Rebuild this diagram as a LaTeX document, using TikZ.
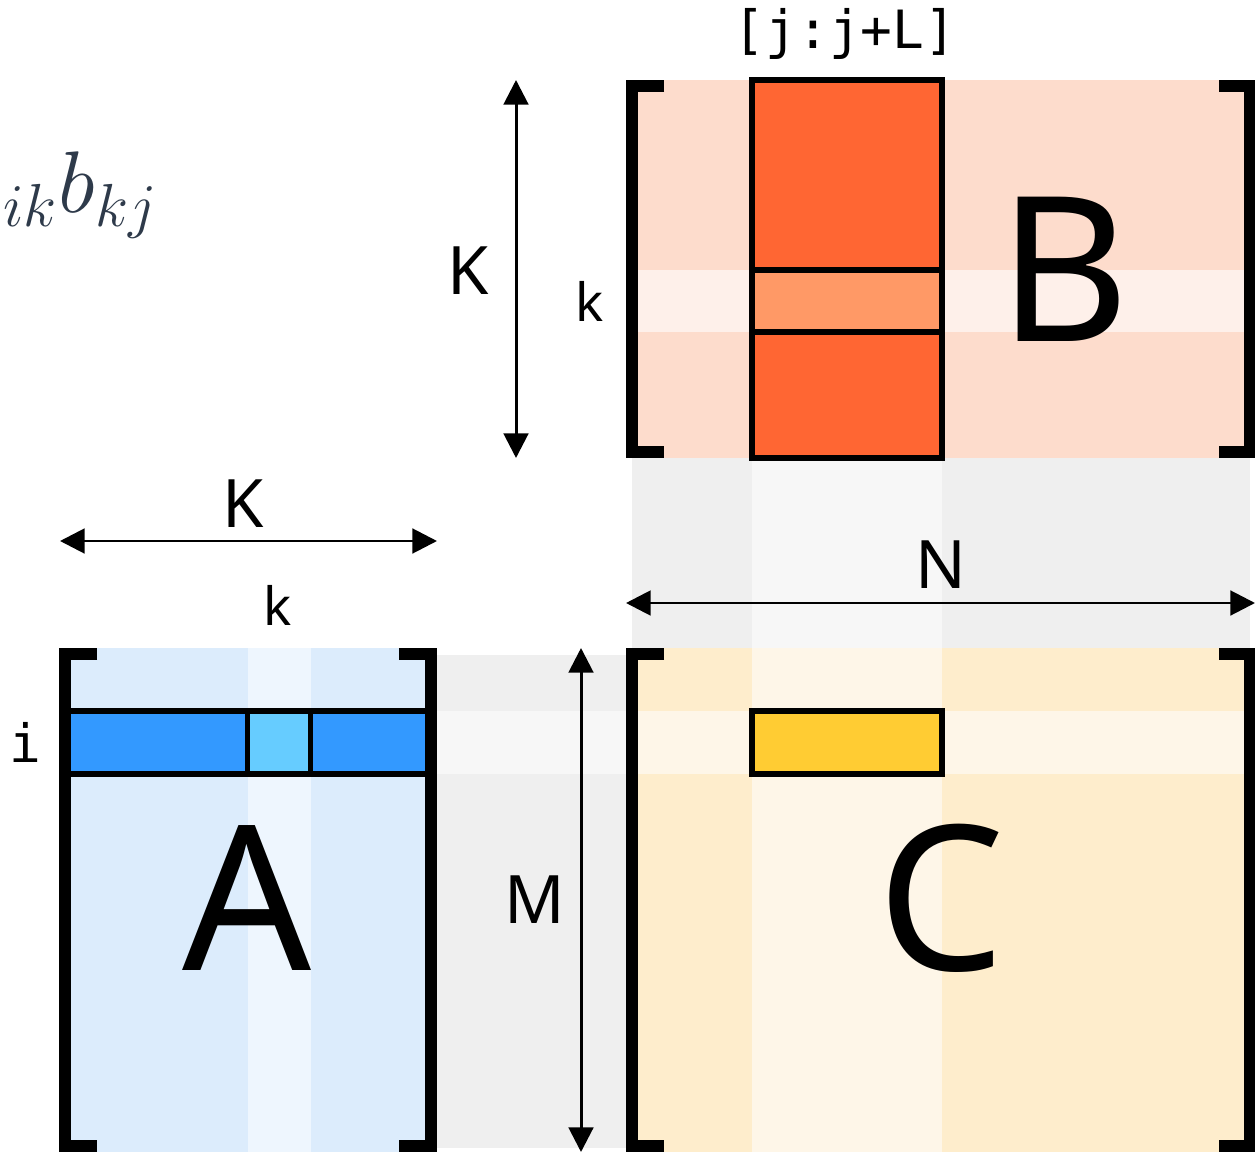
\documentclass[tikz,border=0pt]{standalone}
\usepackage{fontspec}
\setmainfont{Noto Sans}
\newfontfamily\monofont{DejaVu Sans Mono}
\usetikzlibrary{arrows.meta}
\begin{document}
\begin{tikzpicture}[x=0.01cm, y=-0.01cm, line join=miter,
    brk/.style={line width=3.4pt},
    dimarrow/.style={{Triangle[length=7pt,width=7pt]}-{Triangle[length=7pt,width=7pt]}, line width=0.85pt},
    cell/.style={draw, line width=1.5pt},
    biglbl/.style={font=\fontsize{19}{20}\selectfont},
    smllbl/.style={font=\fontsize{15}{16}\selectfont},
    matlbl/.style={font=\fontsize{57.5}{60}\selectfont}]
  \definecolor{abg}{HTML}{DCECFC}
  \definecolor{aband}{HTML}{EEF6FE}
  \definecolor{arow}{HTML}{3399FF}
  \definecolor{acell}{HTML}{66CCFF}
  \definecolor{bbg}{HTML}{FDDCCC}
  \definecolor{bband}{HTML}{FEF0EA}
  \definecolor{bcol}{HTML}{FF6633}
  \definecolor{bcell}{HTML}{FF9966}
  \definecolor{cbg}{HTML}{FEEDCC}
  \definecolor{cband}{HTML}{FEF6E8}
  \definecolor{ccell}{HTML}{FFCC33}
  \definecolor{gapgray}{HTML}{EFEFEF}
  \definecolor{gaplite}{HTML}{F7F7F7}
  \definecolor{mathink}{RGB}{46,58,74}
  \useasboundingbox (0,0) rectangle (1255,1152);
  % gaps between the matrices
  \fill[gapgray] (632,458) rectangle (1250,648);
  \fill[gaplite] (752,458) rectangle (942,648);
  \fill[gapgray] (437,655) rectangle (628,1148);
  \fill[gaplite] (437,711) rectangle (628,774);
  % A
  \fill[abg] (64,648) rectangle (431,1152);
  \fill[aband] (248,648) rectangle (311,1152);
  \draw[cell, fill=arow] (66,711) rectangle (428,774);
  \draw[cell, fill=acell] (247.5,711) rectangle (310.5,774);
  \draw[brk] (97,654) -- (65,654) -- (65,1146) -- (97,1146);
  \draw[brk] (399,654) -- (431,654) -- (431,1146) -- (399,1146);
  % B
  \fill[bbg] (632,80) rectangle (1250,458);
  \fill[bband] (632,270) rectangle (1250,332);
  \draw[cell, fill=bcol] (752,80) rectangle (942,458);
  \draw[cell, fill=bcell] (752,270) rectangle (942,332);
  \draw[brk] (664,86) -- (632,86) -- (632,452) -- (664,452);
  \draw[brk] (1219,86) -- (1250,86) -- (1250,452) -- (1219,452);
  % C
  \fill[cbg] (632,648) rectangle (1250,1152);
  \fill[cband] (752,648) rectangle (942,1152);
  \fill[cband] (632,711) rectangle (1250,774);
  \draw[cell, fill=ccell] (752,711) rectangle (942,774);
  \draw[brk] (664,654) -- (632,654) -- (632,1146) -- (664,1146);
  \draw[brk] (1219,654) -- (1250,654) -- (1250,1146) -- (1219,1146);
  % matrix names
  \node[matlbl, anchor=base] (nameA) at (247,970) {A};
  \node[matlbl, anchor=base] (nameB) at (1064,342) {B};
  \node[matlbl, anchor=base] (nameC) at (941,970) {C};
  % dimensions
  \coordinate (kvtop) at (516,80);
  \coordinate (kvbot) at (516,458);
  \coordinate (khl) at (60,541);
  \coordinate (khr) at (437,541);
  \coordinate (nl) at (626,603);
  \coordinate (nr) at (1255,603);
  \coordinate (mtop) at (581,648);
  \coordinate (mbot) at (581,1152);
  \draw[dimarrow] (kvtop) -- (kvbot);
  \draw[dimarrow] (khl) -- (khr);
  \draw[dimarrow] (nl) -- (nr);
  \draw[dimarrow] (mtop) -- (mbot);
  \node[biglbl, anchor=base] (dimKv) at (468,295) {K};
  \node[biglbl, anchor=base] (dimKh) at (243,527) {K};
  \node[biglbl, anchor=base] (dimN) at (941,588) {N};
  \node[biglbl, anchor=base] (dimM) at (535,923) {M};
  % indices
  \node[smllbl, anchor=base] (idxkB) at (590,322) {k};
  \node[smllbl, anchor=base] (idxkA) at (278,625) {k};
  \node[font=\fontsize{15}{16}\selectfont\monofont, anchor=base] (idxi) at (25,762) {i};
  \node[font=\fontsize{15}{16}\selectfont\monofont, anchor=base] (slice) at (845,49) {[j:j+L]};
  % formula, cut at the left edge
  \node[mathink, font=\fontsize{25}{26}\selectfont, anchor=base west, inner sep=0pt] (sumterm) at (3,213) {${}_{ik}b_{kj}$};
\end{tikzpicture}
\end{document}
